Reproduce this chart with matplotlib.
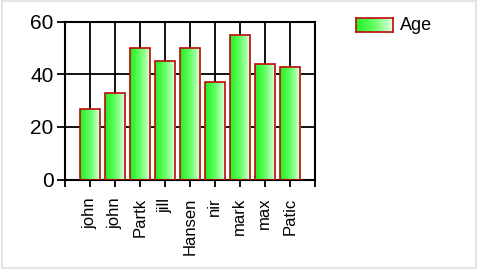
import numpy as np
import matplotlib
matplotlib.use('Agg')
import matplotlib.pyplot as plt
from matplotlib.colors import LinearSegmentedColormap
from matplotlib.patches import Rectangle

names = ['john', 'john', 'Partk', 'jill', 'Hansen', 'nir', 'mark', 'max', 'Patic']
ages = [27, 33, 50, 45, 50, 37, 55, 44, 43]
series_name = 'Age'

plt.rcParams['font.family'] = ['Liberation Sans', 'DejaVu Sans']

green = LinearSegmentedColormap.from_list('g', ['#22f022', '#66ff66', '#e6ffe6'])
grad = np.linspace(0, 1, 64).reshape(1, -1)
edge = '#c00808'

fig = plt.figure(figsize=(4.8, 2.7), dpi=100)
ax = fig.add_axes([0.135, 0.335, 0.521, 0.584])

x = np.arange(1, len(names) + 1)
bars = ax.bar(x, ages, width=0.8, facecolor='none', edgecolor=edge, linewidth=1.2, zorder=3)
for b in bars:
    bx, by = b.get_x(), b.get_y()
    w, h = b.get_width(), b.get_height()
    ax.imshow(grad, cmap=green, aspect='auto', extent=[bx, bx + w, by, by + h],
              zorder=2, interpolation='bilinear')

ax.set_xlim(0, len(names) + 1)
ax.set_ylim(0, 60)
ax.set_xticks(np.arange(0, len(names) + 2))
ax.set_xticklabels([''] + names + [''], rotation=90, fontsize=12)
ax.set_yticks([0, 20, 40, 60])
ax.tick_params(axis='y', labelsize=15, length=6, width=1.3, pad=2)
ax.tick_params(axis='x', length=5, width=1.3, pad=8)
ax.grid(True, color='black', linewidth=1.3, zorder=1)
ax.set_axisbelow(True)
for s in ax.spines.values():
    s.set_linewidth(1.5)
    s.set_color('black')

# legend
lax = fig.add_axes([0.742, 0.882, 0.077, 0.052])
lax.imshow(grad, cmap=green, aspect='auto', interpolation='bilinear')
lax.set_xticks([])
lax.set_yticks([])
for s in lax.spines.values():
    s.set_color(edge)
    s.set_linewidth(1.2)
fig.text(0.833, 0.905, series_name, fontsize=13, va='center', ha='left')

fig.patches.append(Rectangle((0.004, 0.006), 0.988, 0.992, transform=fig.transFigure,
                             fill=False, edgecolor='#e4e4e4', linewidth=1.5))

fig.savefig('out.png', dpi=100)
